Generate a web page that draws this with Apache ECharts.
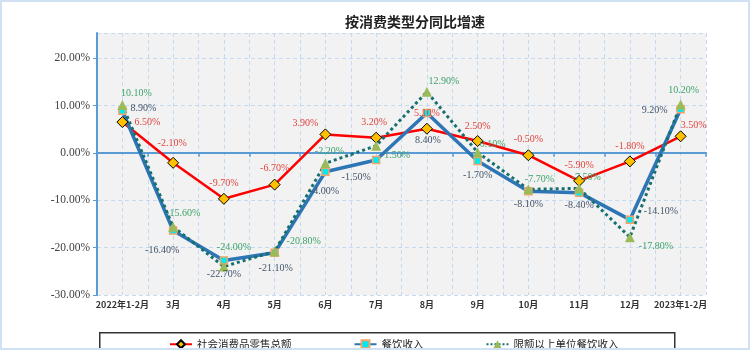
<!DOCTYPE html>
<html><head><meta charset="utf-8">
<script src="https://cdn.jsdelivr.net/npm/echarts@6/dist/echarts.min.js"></script>
<style>
html,body{margin:0;padding:0;background:#fff}
#wrap{position:relative;width:750px;height:350px}
#c{width:750px;height:350px}
#f{position:absolute;left:0;top:0;width:750px;height:350px;box-sizing:border-box;border:2px solid #cfe1f3;pointer-events:none}
</style>
</head><body>
<div id="wrap"><div id="c"></div><div id="f"></div></div>
<script>
// ---- data ----
const categories = ['2022年1-2月','3月','4月','5月','6月','7月','8月','9月','10月','11月','12月','2023年1-2月'];
const retailTotal = [6.5, -2.1, -9.7, -6.7, 3.9, 3.2, 5.1, 2.5, -0.5, -5.9, -1.8, 3.5];
const cateringIncome = [8.9, -16.4, -22.7, -21.1, -4.0, -1.5, 8.4, -1.7, -8.1, -8.4, -14.1, 9.2];
const aboveQuotaCatering = [10.1, -15.6, -24.0, -20.8, -2.2, 1.5, 12.9, 0.1, -7.7, -7.5, -17.8, 10.2];
const seriesNames = ['社会消费品零售总额', '餐饮收入', '限额以上单位餐饮收入'];
const yMin = -30, yMax = 25.3, yStep = 10;

// ---- label placement (offsets from each point, px) ----
const retailLabelOffsets = [[25,0],[-1,-19],[0,-15],[0,-16],[-20,-11],[-2,-15],[0,-15],[0,-15],[0,-16],[0,-15],[0,-15],[13,-11]];
const cateringLabelOffsets = [[21,-2],[-11,20],[0,14],[1,16],[-1,20],[-20,17],[1,27],[0,14],[0,13],[0,13],[31,-8],[-26,1]];
const quotaLabelOffsets = [[14,-12],[10,-13],[10,-19],[29,-10],[4,-12],[21,10],[17,-10],[15,-8],[11,-10],[7,-11],[26,9],[3,-14]];

const numFont = 'Liberation Serif';
const cjkFont = '"Noto Sans CJK SC"';

function buildData(values, offsets) {
  return values.map((v, i) => ({ value: v, label: { offset: offsets[i] } }));
}
function pct(p) { return Number(p.value).toFixed(2) + '%'; }

const chart = echarts.init(document.getElementById('c'), null, { renderer: 'canvas' });
chart.setOption({
  animation: false,
  backgroundColor: '#ffffff',
  title: {
    text: '按消费类型分同比增速',
    left: 410, top: 10, textAlign: 'center',
    textStyle: { fontFamily: cjkFont, fontSize: 14, fontWeight: 'bold', color: '#222' }
  },
  grid: {
    left: 97, right: 44, top: 33, bottom: 55,
    show: true, backgroundColor: '#f2f2f2', borderWidth: 0
  },
  legend: {
    left: 164, top: 334,
    itemWidth: 22, itemHeight: 10, itemGap: 62,
    textStyle: { fontFamily: cjkFont, fontSize: 10.5, color: '#222' },
    data: seriesNames
  },
  graphic: [{
    type: 'rect', left: 99, top: 332, z: -1,
    shape: { width: 575, height: 17 },
    style: { fill: '#fff', stroke: '#333', lineWidth: 1.5 }
  }],
  xAxis: [{
    type: 'category', data: categories, position: 'bottom',
    axisLine: { show: false, onZero: false },
    axisTick: { show: false },
    splitLine: { show: false },
    axisLabel: { interval: 0, margin: 5, fontFamily: cjkFont, fontSize: 9, fontWeight: 'bold', color: '#333' }
  }, {
    type: 'category', data: new Array(categories.length * 2).fill(''), position: 'bottom',
    axisLine: { show: true, onZero: true, lineStyle: { color: '#5b9bd5', width: 2 } },
    axisTick: { show: true, interval: 1, length: 4, lineStyle: { color: '#5b9bd5', width: 1.5 } },
    axisLabel: { show: false },
    splitLine: { show: true, interval: 0, lineStyle: { color: '#c3daf1', type: [4, 3], width: 1 } }
  }],
  yAxis: {
    type: 'value', min: yMin, max: yMax, interval: yStep,
    axisLine: { show: true, lineStyle: { color: '#5b9bd5', width: 2 } },
    axisTick: { show: true, length: 4, lineStyle: { color: '#5b9bd5' } },
    axisLabel: {
      showMaxLabel: false, margin: 7,
      fontFamily: numFont, fontSize: 11.5, color: '#404040',
      formatter: v => v.toFixed(2) + '%'
    },
    splitLine: { show: true, lineStyle: { color: '#c3daf1', type: [4, 3], width: 1 } }
  },
  series: [{
    name: seriesNames[0], type: 'line', xAxisIndex: 0,
    data: buildData(retailTotal, retailLabelOffsets),
    lineStyle: { color: '#ff0000', width: 2.5 },
    symbol: 'diamond', symbolSize: 11,
    itemStyle: { color: '#ffc000', borderColor: '#000', borderWidth: 1 },
    label: { show: true, position: 'inside', formatter: pct, fontFamily: numFont, fontSize: 10, color: '#e0443e' }
  }, {
    name: seriesNames[1], type: 'line', xAxisIndex: 0,
    data: buildData(cateringIncome, cateringLabelOffsets),
    lineStyle: { color: '#2e75b6', width: 3.5 },
    symbol: 'rect', symbolSize: 7,
    itemStyle: { color: '#00eaf0', borderColor: '#f4a46a', borderWidth: 1.5 },
    label: { show: true, position: 'inside', formatter: pct, fontFamily: numFont, fontSize: 10, color: '#44546a' }
  }, {
    name: seriesNames[2], type: 'line', xAxisIndex: 0,
    data: buildData(aboveQuotaCatering, quotaLabelOffsets),
    lineStyle: { color: '#17706e', width: 3, type: 'dotted' },
    symbol: 'triangle', symbolSize: 10,
    itemStyle: { color: '#9bbb59', borderWidth: 0 },
    label: { show: true, position: 'inside', formatter: pct, fontFamily: numFont, fontSize: 10, color: '#3ea36a' }
  }]
});
</script>
</body></html>
